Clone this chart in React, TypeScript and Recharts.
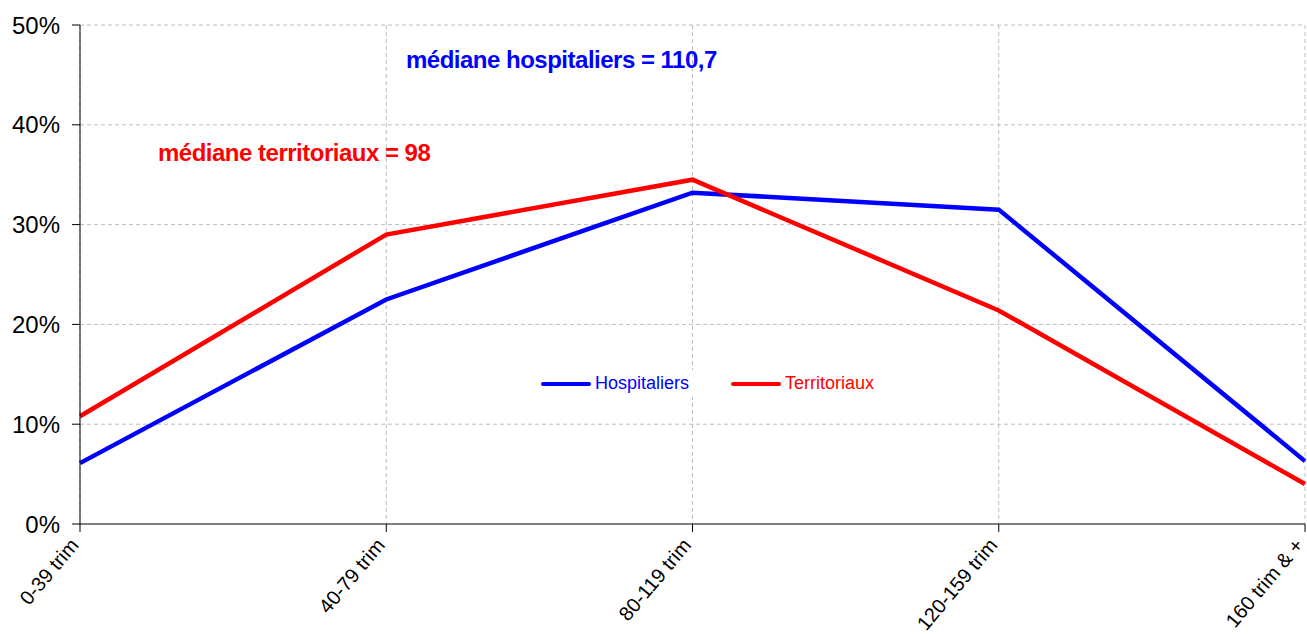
import React from "react";
import {
  LineChart,
  Line,
  XAxis,
  YAxis,
  CartesianGrid,
} from "recharts";

const categories = ["0-39 trim", "40-79 trim", "80-119 trim", "120-159 trim", "160 trim & +"];
const hospitaliers = [6.1, 22.5, 33.2, 31.5, 6.3];
const territoriaux = [10.8, 29.0, 34.5, 21.4, 4.0];
const yTicks = [0, 10, 20, 30, 40, 50];

const BLUE = "#0000FF";
const RED = "#FF0000";
const FONT = "'Liberation Sans', Arial, sans-serif";

const data = categories.map((c, i) => ({
  name: c,
  Hospitaliers: hospitaliers[i],
  Territoriaux: territoriaux[i],
}));

function XTick(props: any) {
  const { x, y, payload } = props;
  return (
    <g transform={`translate(${x - 5},${y + 8})`}>
      <text
        transform="rotate(-50)"
        textAnchor="end"
        dy={6}
        fontSize={20}
        fill="#000"
        fontFamily={FONT}
      >
        {payload.value}
      </text>
    </g>
  );
}

function LegendBox() {
  const item = (label: string, color: string, gap: number) => (
    <span style={{ display: "flex", alignItems: "center", marginRight: gap }}>
      <span
        style={{
          display: "inline-block",
          width: 50,
          height: 4,
          borderRadius: 2,
          background: color,
          marginRight: 4,
        }}
      />
      <span style={{ color, fontSize: 18, fontFamily: FONT }}>{label}</span>
    </span>
  );
  return (
    <div
      style={{
        position: "absolute",
        left: 541,
        top: 370,
        display: "flex",
        background: "#fff",
        padding: "3px 0",
      }}
    >
      {item("Hospitaliers", BLUE, 42)}
      {item("Territoriaux", RED, 0)}
    </div>
  );
}

export default function App() {
  return (
    <div style={{ position: "absolute", left: 0, top: 0, width: 1307, height: 634, background: "#fff" }}>
      <LineChart
        width={1307}
        height={634}
        data={data}
        margin={{ top: 25, right: 2, left: 0, bottom: 10 }}
      >
        <CartesianGrid strokeDasharray="4 3" stroke="#BDBDBD" />
        <XAxis
          dataKey="name"
          tick={<XTick />}
          tickLine={{ stroke: "#000" }}
          tickSize={8}
          axisLine={{ stroke: "#7F7F7F", strokeWidth: 2 }}
          height={100}
          interval={0}
        />
        <YAxis
          domain={[0, 50]}
          ticks={yTicks}
          tickFormatter={(v: number) => `${v}%`}
          tick={{ fontSize: 24, fill: "#000", fontFamily: FONT }}
          tickLine={{ stroke: "#000" }}
          tickSize={8}
          tickMargin={12}
          axisLine={{ stroke: "#000" }}
          width={80}
        />
        <Line
          dataKey="Hospitaliers"
          stroke={BLUE}
          strokeWidth={4.5}
          dot={false}
          type="linear"
          isAnimationActive={false}
        />
        <Line
          dataKey="Territoriaux"
          stroke={RED}
          strokeWidth={4.5}
          dot={false}
          type="linear"
          isAnimationActive={false}
        />
      </LineChart>
      <LegendBox />
      <div
        style={{
          position: "absolute",
          left: 406,
          top: 46,
          color: BLUE,
          fontWeight: "bold",
          fontSize: 24,
          letterSpacing: -0.5,
          fontFamily: FONT,
          whiteSpace: "nowrap",
        }}
      >
        médiane hospitaliers = 110,7
      </div>
      <div
        style={{
          position: "absolute",
          left: 158,
          top: 139,
          color: RED,
          fontWeight: "bold",
          fontSize: 24,
          letterSpacing: -0.5,
          fontFamily: FONT,
          whiteSpace: "nowrap",
        }}
      >
        médiane territoriaux = 98
      </div>
    </div>
  );
}
